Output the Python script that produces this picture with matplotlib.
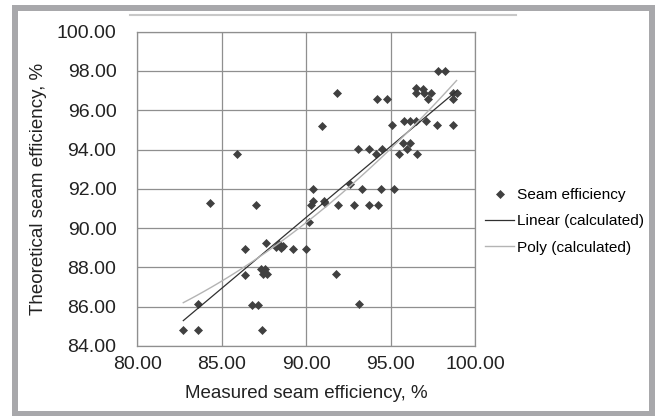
import matplotlib
matplotlib.use("Agg")
import matplotlib.pyplot as plt
import numpy as np
from matplotlib.patches import Rectangle
from matplotlib.lines import Line2D

plt.rcParams['font.family'] = ['Liberation Sans', 'DejaVu Sans']

measured = [91.80, 94.17, 94.79, 90.95, 85.92, 93.06, 93.73, 94.12, 94.48, 92.59,
            90.38, 93.28, 94.40, 95.19, 97.81, 98.17, 96.47, 96.47, 96.89, 96.98,
            97.36, 97.20, 98.64, 98.88, 98.64, 95.09, 95.78, 96.15, 96.49, 97.06,
            97.71, 98.66, 95.70, 96.14, 95.94, 95.50, 96.53, 91.89, 92.84, 93.73,
            94.22, 91.74, 93.14, 84.28, 87.02, 90.28, 90.40, 91.07, 91.10, 90.18,
            87.63, 86.37, 88.20, 88.40, 88.50, 88.60, 89.19, 90.00, 86.37, 87.30,
            87.56, 87.46, 87.66, 83.61, 86.77, 87.16, 82.72, 83.61, 87.36]
theoretical = [96.86, 96.57, 96.57, 95.21, 93.79, 94.03, 94.03, 93.79, 94.04, 92.23,
               91.99, 91.98, 91.98, 91.98, 98.00, 98.00, 97.15, 96.90, 97.10, 96.90,
               96.90, 96.57, 96.90, 96.90, 96.57, 95.23, 95.47, 95.47, 95.47, 95.47,
               95.23, 95.23, 94.32, 94.32, 94.04, 93.77, 93.77, 91.19, 91.19, 91.19,
               91.19, 87.65, 86.12, 91.26, 91.16, 91.18, 91.37, 91.37, 91.26, 90.33,
               89.23, 88.92, 89.05, 89.17, 88.97, 89.09, 88.92, 88.92, 87.63, 87.92,
               87.92, 87.65, 87.65, 86.12, 86.10, 86.10, 84.81, 84.81, 84.81]

x_ticks = [80, 85, 90, 95, 100]
y_ticks = [84, 86, 88, 90, 92, 94, 96, 98, 100]

W, H = 658, 416
fig = plt.figure(figsize=(W / 100, H / 100), dpi=100)
fig.patch.set_facecolor('white')

# outer frame
fig.patches.append(Rectangle((15 / W, (H - 414) / H), (652 - 15) / W, (414 - 8) / H,
                             transform=fig.transFigure, fill=False,
                             edgecolor='#a8a8ab', linewidth=6 * 0.72))
fig.lines.append(Line2D([130 / W, 516 / W], [(H - 15) / H] * 2, transform=fig.transFigure,
                        color='#c8c8c8', linewidth=1.5))

ax = fig.add_axes([137.3 / W, (H - 346) / H, 338.2 / W, 314.3 / H])

x = np.array(measured)
y = np.array(theoretical)
xs = np.linspace(x.min(), x.max(), 100)
lin = np.polyfit(x, y, 1)
poly = np.polyfit(x, y, 2)

ax.plot(x, y, linestyle='none', marker='D', markersize=4.2, color='#404040',
        markeredgewidth=0.5, label='Seam efficiency', zorder=3)
ax.plot(xs, np.polyval(lin, xs), color='#303030', linewidth=0.9, label='Linear (calculated)', zorder=4)
ax.plot(xs, np.polyval(poly, xs), color='#b4b4b4', linewidth=1.0, label='Poly (calculated)', zorder=4)

ax.set_xlim(80, 100)
ax.set_ylim(84, 100)
ax.set_xticks(x_ticks)
ax.set_yticks(y_ticks)
ax.set_xticklabels([f"{v:.2f}" for v in x_ticks])
ax.set_yticklabels([f"{v:.2f}" for v in y_ticks])
ax.grid(True, color='#8f8f8f', linewidth=0.9)
ax.set_axisbelow(True)
for s in ax.spines.values():
    s.set_color('#8f8f8f')
    s.set_linewidth(0.9)
ax.tick_params(axis='both', length=0, labelsize=14, colors='#222222')
ax.tick_params(axis='y', pad=15)
ax.tick_params(axis='x', pad=7)
ax.set_xlabel('Measured seam efficiency, %', fontsize=13.5, color='#222222', labelpad=9)
ax.set_ylabel('Theoretical seam efficiency, %', fontsize=13.5, color='#222222', labelpad=7)

leg = ax.legend(loc='upper left', bbox_to_anchor=(485 / W, (H - 188) / H),
                bbox_transform=fig.transFigure, frameon=False, fontsize=11.1,
                handlelength=1.9, handletextpad=0.15, labelspacing=0.8,
                borderaxespad=0, borderpad=0)

fig.savefig('out.png', dpi=100, facecolor='white')
